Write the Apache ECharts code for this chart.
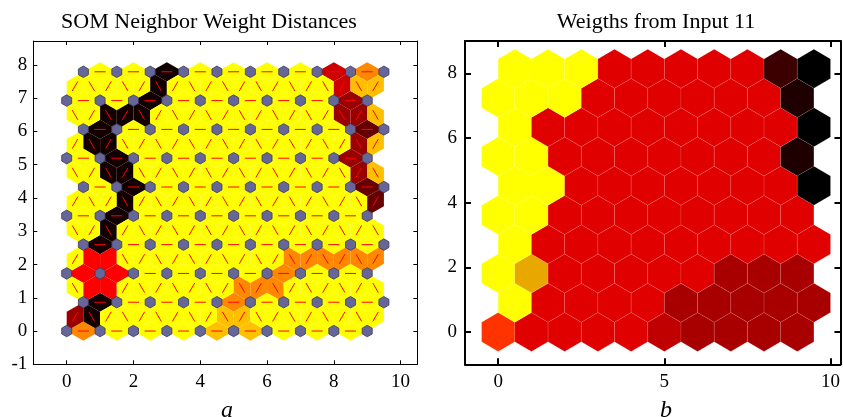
<!DOCTYPE html>
<html><head><meta charset="utf-8">
<script src="https://cdn.jsdelivr.net/npm/echarts@6/dist/echarts.min.js"></script>
<style>html,body{margin:0;padding:0;background:#fff}#c{width:843px;height:417px}</style>
</head><body><div id="c"></div>
<script>
// ---------- data ----------
const COLS = 10, ROWS = 10;
// Left panel: neighbour distance level per edge (0 = small ... 8 = large)
// horizontal edges, one string per row j (9 edges i -> i+1)
const horizLevels = [
  "300022000",
  "800030000",
  "440000300",
  "800000000",
  "080000000",
  "080000007",
  "080000006",
  "800000007",
  "008000006",
  "008000053"
];
// diagonal edges between row j and j+1, 19 edges ordered by x = 0.25 + 0.5k
const diagLevels = [
  "6800000002200000000",
  "0440000000333000000",
  "0440000000000333333",
  "0080000000000000000",
  "0008000000000000007",
  "0088000000000000062",
  "0880000000000000062",
  "0088800000000000662",
  "0000080000000000522"
];
const distPalette = ['#FFFF00','#FFF000','#FFC000','#FF8800','#FF0000','#CC0000','#990000','#660000','#120000'];

// Right panel: weight plane of input 11, one string per row j (10 neurons)
const weightRows = [
  "ORRRRSDDDD",
  "YRRRRDDDDD",
  "YGRRRRRDDD",
  "YRRRRRRRRR",
  "YYRRRRRRRR",
  "YYRRRRRRRK",
  "YYRRRRRRRW",
  "YRRRRRRRRK",
  "YYYRRRRRRW",
  "YYYRRRRRVK"
];
const weightKeys = ['Y','G','O','R','S','D','V','W','K'];
const weightPalette = ['#FFFF00','#E8A800','#FF3300','#E00000','#C00000','#A80000','#3C0000','#1E0000','#000000'];

const leftXTicks = [0,2,4,6,8,10];
const leftYTicks = [-1,0,1,2,3,4,5,6,7,8];
const rightXTicks = [0,5,10];
const rightYTicks = [0,2,4,6,8];
const titles = ['SOM Neighbor Weight Distances', 'Weigths from Input 11'];
const panelLabels = ['a', 'b'];

// ---------- topology ----------
const H = Math.sqrt(0.75);
const rowStepR = 0.905;
function nx(i, j) { return i + 0.5 * (j % 2); }

const edgeData = [];
for (let j = 0; j < ROWS; j++) {
  for (let i = 0; i < COLS - 1; i++) {
    edgeData.push([nx(i, j), j * H, nx(i + 1, j), j * H, +horizLevels[j][i]]);
  }
}
for (let j = 0; j < ROWS - 1; j++) {
  const oj = 0.5 * (j % 2);
  for (let k = 0; k < 2 * COLS - 1; k++) {
    const xc = 0.25 + 0.5 * k;
    const v = xc - 0.25 - oj;
    let xl, xu;
    if (Math.abs(v - Math.round(v)) < 1e-6) { xl = xc - 0.25; xu = xc + 0.25; }
    else { xl = xc + 0.25; xu = xc - 0.25; }
    edgeData.push([xl, j * H, xu, (j + 1) * H, +diagLevels[j][k]]);
  }
}
const neuronData = [];
for (let j = 0; j < ROWS; j++) for (let i = 0; i < COLS; i++) neuronData.push([nx(i, j), j * H]);

const weightData = [];
for (let j = 0; j < ROWS; j++) for (let i = 0; i < COLS; i++) {
  weightData.push([nx(i, j), j * rowStepR, weightKeys.indexOf(weightRows[j][i])]);
}

// ---------- renderers ----------
const Z = Math.sqrt(0.75) / 3;
function renderEdge(params, api) {
  const x1 = api.value(0), y1 = api.value(1), x2 = api.value(2), y2 = api.value(3), lv = api.value(4);
  const mx = (x1 + x2) / 2, my = (y1 + y2) / 2, dx = x2 - x1, dy = y2 - y1;
  const L = Math.hypot(dx, dy);
  const px = -dy / L * Z, py = dx / L * Z;
  const pts = [[x1, y1], [mx + px, my + py], [x2, y2], [mx - px, my - py]].map(p => api.coord(p));
  const a = api.coord([x1 + dx / 3, y1 + dy / 3]), b = api.coord([x1 + 2 * dx / 3, y1 + 2 * dy / 3]);
  return { type: 'group', children: [
    { type: 'polygon', shape: { points: pts }, style: { fill: distPalette[lv] } },
    { type: 'line', shape: { x1: a[0], y1: a[1], x2: b[0], y2: b[1] }, style: { stroke: '#FF0000', lineWidth: 1 } }
  ]};
}
function renderNeuron(params, api) {
  const x = api.value(0), y = api.value(1);
  const w = 0.15, r = 0.15 * 2 / Math.sqrt(3);
  const pts = [[x, y + r], [x + w, y + r / 2], [x + w, y - r / 2], [x, y - r], [x - w, y - r / 2], [x - w, y + r / 2]].map(p => api.coord(p));
  return { type: 'polygon', shape: { points: pts }, style: { fill: '#666699', stroke: '#3a3a5a', lineWidth: 0.8 } };
}
function renderHex(params, api) {
  const c = api.coord([api.value(0), api.value(1)]);
  const w = api.size([0.5, 0])[0];
  const r = api.size([0, rowStepR])[1] / 1.5;
  const pts = [[c[0], c[1] - r], [c[0] + w, c[1] - r / 2], [c[0] + w, c[1] + r / 2], [c[0], c[1] + r], [c[0] - w, c[1] + r / 2], [c[0] - w, c[1] - r / 2]];
  return { type: 'polygon', shape: { points: pts }, style: { fill: weightPalette[api.value(2)], stroke: 'rgba(255,255,255,0.18)', lineWidth: 0.6 } };
}

// ---------- axes ----------
const FONT = 'Liberation Serif';
function xAx(grid, min, max, pos, ticks, lw, tl, labels) {
  return { gridIndex: grid, type: 'value', min: min, max: max, position: pos,
    axisLine: { show: true, onZero: false, lineStyle: { color: '#000', width: lw } },
    axisTick: { show: true, inside: true, length: tl, customValues: ticks, lineStyle: { color: '#000', width: lw } },
    axisLabel: { show: labels, customValues: ticks, fontFamily: FONT, fontSize: 19, color: '#000', margin: 8 },
    splitLine: { show: false } };
}
function yAx(grid, min, max, pos, ticks, lw, tl, labels, margin) {
  return { gridIndex: grid, type: 'value', min: min, max: max, position: pos,
    axisLine: { show: true, onZero: false, lineStyle: { color: '#000', width: lw } },
    axisTick: { show: true, inside: true, length: tl, customValues: ticks, lineStyle: { color: '#000', width: lw } },
    axisLabel: { show: labels, customValues: ticks, fontFamily: FONT, fontSize: 19, color: '#000', margin: margin },
    splitLine: { show: false } };
}

const chart = echarts.init(document.getElementById('c'), null, { renderer: 'canvas' });
chart.setOption({
  animation: false,
  backgroundColor: '#fff',
  grid: [
    { left: 33.3, top: 41, width: 384, height: 323.3 },
    { left: 465, top: 41, width: 377, height: 323.3 }
  ],
  xAxis: [
    xAx(0, -1, 10.5, 'bottom', leftXTicks, 1, 4, true),
    xAx(0, -1, 10.5, 'top', leftXTicks, 1, 4, false),
    xAx(1, -1, 10.3, 'bottom', rightXTicks, 2, 6, true),
    xAx(1, -1, 10.3, 'top', rightXTicks, 2, 6, false)
  ],
  yAxis: [
    yAx(0, -1, 8.72, 'left', leftYTicks, 1, 4, true, 6),
    yAx(0, -1, 8.72, 'right', leftYTicks, 1, 4, false, 6),
    yAx(1, -1, 9, 'left', rightYTicks, 2, 6, true, 8),
    yAx(1, -1, 9, 'right', rightYTicks, 2, 6, false, 8)
  ],
  series: [
    { type: 'custom', xAxisIndex: 0, yAxisIndex: 0, data: edgeData, encode: { x: [0, 2], y: [1, 3] }, renderItem: renderEdge, z: 2, silent: true },
    { type: 'custom', xAxisIndex: 0, yAxisIndex: 0, data: neuronData, encode: { x: 0, y: 1 }, renderItem: renderNeuron, z: 3, silent: true },
    { type: 'custom', xAxisIndex: 2, yAxisIndex: 2, data: weightData, encode: { x: 0, y: 1 }, renderItem: renderHex, z: 2, silent: true }
  ],
  graphic: [
    { type: 'text', x: 209, y: 22, style: { text: titles[0], fontFamily: FONT, fontSize: 22, fill: '#000', align: 'center', verticalAlign: 'middle' } },
    { type: 'text', x: 656, y: 22, style: { text: titles[1], fontFamily: FONT, fontSize: 22, fill: '#000', align: 'center', verticalAlign: 'middle' } },
    { type: 'text', x: 227, y: 411, style: { text: panelLabels[0], fontFamily: FONT, fontStyle: 'italic', fontSize: 24, fill: '#000', align: 'center', verticalAlign: 'middle' } },
    { type: 'text', x: 666, y: 411, style: { text: panelLabels[1], fontFamily: FONT, fontStyle: 'italic', fontSize: 24, fill: '#000', align: 'center', verticalAlign: 'middle' } }
  ]
});
</script>
</body></html>
